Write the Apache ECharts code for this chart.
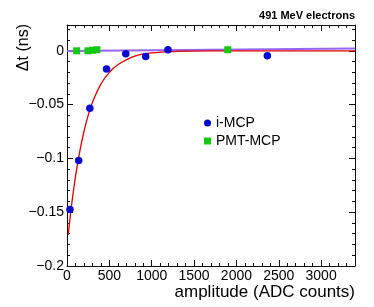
<!DOCTYPE html>
<html>
<head>
<meta charset="utf-8">
<script src="https://cdn.jsdelivr.net/npm/echarts@6/dist/echarts.min.js"></script>
<style>
html,body{margin:0;padding:0;background:#fff;}
#c{width:374px;height:307px;}
</style>
</head>
<body>
<div id="c"></div>
<script>
// ---- data ----
const imcpX = [35, 138, 270, 467, 694, 929, 1192, 2365];
const imcpY = [-0.1475, -0.102, -0.0534, -0.0170, -0.0028, -0.0053, 0.0009, -0.0046];
const pmtX = [114, 247, 300, 353, 1898];
const pmtY = [0, 0, 0.0005, 0.001, 0.001];
const fitX = [15, 50, 100, 150, 200, 250, 300, 400, 500, 600, 800, 1000, 1300, 1700, 3400];
const fitY = [-0.171, -0.146, -0.117, -0.094, -0.075, -0.060, -0.048, -0.031, -0.020, -0.013, -0.005, -0.002, -0.0006, -0.0001, 0];
const linX = [0, 3400];
const linY = [-0.0002, 0.0021];
const xTicks = [0, 500, 1000, 1500, 2000, 2500, 3000];
const yTicks = [-0.2, -0.15, -0.1, -0.05, 0];

const FONT = '"Liberation Sans", Helvetica, Arial, sans-serif';
const X_MIN = 0, X_MAX = 3400, Y_MIN = -0.2, Y_MAX = 0.024;
const zip = (a, b) => a.map((v, i) => [v, b[i]]);
const fmtY = v => {
  const r = Math.round(v * 1000) / 1000;
  if (!yTicks.some(t => Math.abs(t - r) < 1e-9)) return '';
  return r === 0 ? '0' : String(r).replace('-', '\u2212');
};
const fmtX = v => xTicks.indexOf(Math.round(v)) >= 0 ? String(Math.round(v)) : '';

const lineC = '#111';
function xAx(pos, interval, len, labels, line) {
  return {
    type: 'value', position: pos, min: X_MIN, max: X_MAX, interval: interval,
    axisLine: {show: line, onZero: false, lineStyle: {color: lineC, width: 1}},
    axisTick: {show: true, inside: true, length: len, lineStyle: {color: lineC, width: 1}},
    axisLabel: {show: labels, formatter: fmtX, fontFamily: FONT, fontSize: 14, color: '#000', margin: 3, showMaxLabel: false},
    splitLine: {show: false}
  };
}
function yAx(pos, interval, len, labels, line) {
  return {
    type: 'value', position: pos, min: Y_MIN, max: Y_MAX, interval: interval,
    axisLine: {show: line, onZero: false, lineStyle: {color: lineC, width: 1}},
    axisTick: {show: true, inside: true, length: len, lineStyle: {color: lineC, width: 1}},
    axisLabel: {show: labels, formatter: fmtY, fontFamily: FONT, fontSize: 14, color: '#000', margin: 3, showMaxLabel: false},
    splitLine: {show: false}
  };
}

const chart = echarts.init(document.getElementById('c'), null, {renderer: 'canvas'});
chart.setOption({
  animation: false,
  backgroundColor: '#fff',
  grid: {left: 67, top: 25, width: 288, height: 241, containLabel: false},
  xAxis: [
    xAx('bottom', 500, 6, true, true),
    xAx('bottom', 100, 3, false, false),
    xAx('top', 500, 6, false, true),
    xAx('top', 100, 3, false, false)
  ],
  yAxis: [
    yAx('left', 0.05, 6, true, true),
    yAx('left', 0.01, 3, false, false),
    yAx('right', 0.05, 6, false, true),
    yAx('right', 0.01, 3, false, false)
  ],
  legend: {
    orient: 'vertical', left: 199, top: 111, itemWidth: 7, itemHeight: 7, itemGap: 4,
    textStyle: {fontFamily: FONT, fontSize: 14, color: '#000', lineHeight: 14},
    itemStyle: {opacity: 1},
    data: [{name: 'i-MCP', icon: 'circle'}, {name: 'PMT-MCP', icon: 'rect'}]
  },
  graphic: [
    {type: 'text', right: 19, top: 10, style: {text: '491 MeV electrons', font: 'bold 11px ' + FONT, fill: '#000'}},
    {type: 'text', x: 24, y: 24, rotation: Math.PI / 2, style: {text: '\u0394t (ns)', font: '16px ' + FONT, fill: '#000', align: 'right', verticalAlign: 'middle'}},
    {type: 'text', x: 355, y: 292, style: {text: 'amplitude (ADC counts)', font: '17px ' + FONT, fill: '#000', align: 'right', verticalAlign: 'middle'}}
  ],
  series: [
    {type: 'line', name: 'lin', data: zip(linX, linY), showSymbol: false, symbol: 'none',
     lineStyle: {color: '#9866f2', width: 2}, z: 2, silent: true},
    {type: 'line', name: 'fit', data: zip(fitX, fitY), showSymbol: false, symbol: 'none', smooth: 0.4,
     lineStyle: {color: '#e00000', width: 1.3}, z: 3, silent: true},
    {type: 'scatter', name: 'i-MCP', data: zip(imcpX, imcpY), symbol: 'circle', symbolSize: 7.5,
     itemStyle: {color: '#0a0ad0', opacity: 1}, z: 5},
    {type: 'scatter', name: 'PMT-MCP', data: zip(pmtX, pmtY), symbol: 'rect', symbolSize: 7,
     itemStyle: {color: '#14c814', opacity: 1}, z: 4}
  ]
});
</script>
</body>
</html>
